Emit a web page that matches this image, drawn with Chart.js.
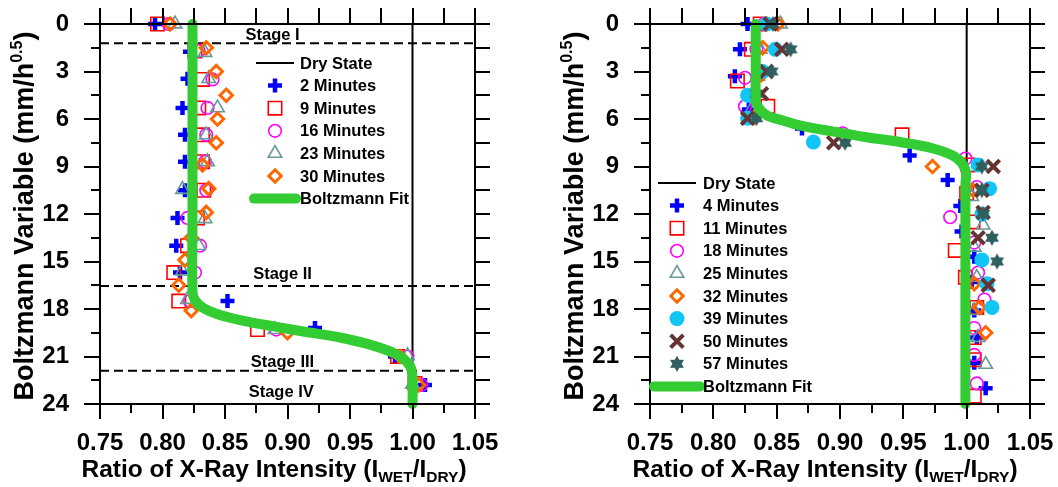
<!DOCTYPE html>
<html>
<head>
<meta charset="utf-8">
<script src="https://cdn.jsdelivr.net/npm/chart.js@4.4.1/dist/chart.umd.min.js"></script>
<style>
  html, body { margin: 0; padding: 0; background: #fff; }
  .wrap { position: relative; width: 1058px; height: 487px; }
  .wrap canvas { position: absolute; top: 0; }
  #leftChart { left: 0; }
  #rightChart { left: 529px; }
</style>
</head>
<body>
<div class="wrap">
  <canvas id="leftChart" width="529" height="487" style="width:529px;height:487px"></canvas>
  <canvas id="rightChart" width="529" height="487" style="width:529px;height:487px"></canvas>
</div>
<script>
// axis tick labels
const X_TICKS = [0.75, 0.80, 0.85, 0.90, 0.95, 1.00, 1.05];
const Y_TICKS = [0, 3, 6, 9, 12, 15, 18, 21, 24];

// ---- left panel ----
const leftLabels = ['2 Minutes', '9 Minutes', '16 Minutes', '23 Minutes', '30 Minutes'];
const left2X = [0.794, 0.822, 0.820, 0.816, 0.818, 0.818, 0.818, 0.812, 0.811, 0.814, 0.852, 0.922, 0.986, 1.010];
const left2Y = [0.0, 1.75, 3.45, 5.3, 7.0, 8.7, 10.5, 12.25, 14.0, 15.7, 17.5, 19.2, 21.0, 22.8];
const left9X = [0.796, 0.826, 0.832, 0.829, 0.832, 0.832, 0.833, 0.828, 0.820, 0.809, 0.813, 0.876, 0.988, 1.002];
const left9Y = [0.0, 1.7, 3.5, 5.3, 7.0, 8.7, 10.5, 12.25, 14.0, 15.7, 17.5, 19.3, 21.0, 22.7];
const left16X = [0.805, 0.829, 0.840, 0.836, 0.835, 0.834, 0.835, 0.820, 0.830, 0.826, 0.822, 0.891, 0.996, 1.007];
const left16Y = [0.0, 1.7, 3.5, 5.3, 7.0, 8.7, 10.5, 12.25, 14.0, 15.7, 17.5, 19.3, 21.0, 22.8];
const left23X = [0.810, 0.834, 0.837, 0.844, 0.835, 0.836, 0.816, 0.834, 0.829, 0.816, 0.820, 0.890, 0.996, 1.000];
const left23Y = [0.0, 1.8, 3.45, 5.3, 7.0, 8.7, 10.45, 12.3, 14.0, 15.6, 17.4, 19.3, 20.95, 22.75];
const left30X = [0.806, 0.835, 0.843, 0.851, 0.844, 0.843, 0.832, 0.837, 0.835, 0.823, 0.818, 0.813, 0.823, 0.900, 0.990, 1.005];
const left30Y = [0.0, 1.5, 3.0, 4.5, 6.0, 7.5, 8.9, 10.4, 11.9, 13.5, 14.9, 16.5, 18.1, 19.5, 21.0, 22.8];
const leftFitX = [0.824, 0.824, 0.824, 0.826, 0.832, 0.843, 0.862, 0.889, 0.915, 0.942, 0.968, 0.988, 0.998, 1.000, 1.000];
const leftFitY = [0.0, 12.0, 16.9, 17.45, 17.9, 18.3, 18.7, 19.1, 19.45, 19.8, 20.3, 20.9, 21.6, 22.4, 24.0];
const stageNames = ['Stage I', 'Stage II', 'Stage III', 'Stage IV'];
const stageLabelX = [0.888, 0.896, 0.896, 0.895];
const stageLabelY = [0.7, 15.8, 21.35, 23.3];
const stageLineY = [1.22, 16.55, 21.9];

// ---- right panel ----
const rightLabels = ['4 Minutes', '11 Minutes', '18 Minutes', '25 Minutes', '32 Minutes', '39 Minutes', '50 Minutes', '57 Minutes'];
const right4X = [0.827, 0.821, 0.817, 0.828, 0.870, 0.955, 0.985, 0.995, 0.996, 1.006, 1.004, 1.006, 1.008, 1.006, 1.015];
const right4Y = [0.0, 1.6, 3.3, 5.4, 6.6, 8.3, 9.85, 11.5, 13.1, 14.7, 16.3, 18.1, 19.8, 21.4, 23.0];
const right11X = [0.837, 0.830, 0.819, 0.843, 0.949, 1.001, 1.000, 1.005, 0.991, 0.999, 1.008, 1.006, 1.006, 1.006];
const right11Y = [0.0, 1.6, 3.6, 5.2, 7.0, 8.9, 10.7, 12.5, 14.3, 16.0, 17.9, 19.8, 21.2, 23.5];
const right18X = [0.840, 0.834, 0.825, 0.825, 0.902, 0.999, 1.008, 0.987, 1.006, 1.009, 1.014, 1.006, 1.006, 1.008];
const right18Y = [0.0, 1.6, 3.4, 5.2, 6.9, 8.5, 10.3, 12.2, 13.8, 15.7, 17.4, 19.2, 20.9, 22.7];
const right25X = [0.853, 0.837, 0.835, 0.830, 1.004, 1.013, 1.006, 1.008, 1.006, 1.009, 1.015];
const right25Y = [0.0, 1.6, 3.3, 5.4, 10.9, 12.7, 14.1, 16.0, 18.1, 19.8, 21.5];
const right32X = [0.851, 0.839, 0.838, 0.832, 0.973, 1.005, 1.006, 1.010, 1.015];
const right32Y = [0.0, 1.5, 3.2, 5.9, 9.0, 10.5, 16.4, 17.9, 19.5];
const right39X = [0.842, 0.849, 0.839, 0.827, 0.827, 0.879, 1.009, 1.018, 1.012, 1.012, 1.016, 1.020];
const right39Y = [0.0, 1.6, 3.0, 4.5, 5.95, 7.45, 8.9, 10.4, 12.0, 14.9, 16.4, 17.9];
const right50X = [0.845, 0.854, 0.842, 0.838, 0.827, 0.895, 1.021, 1.012, 1.013, 1.009, 1.017];
const right50Y = [0.0, 1.6, 3.0, 4.4, 5.95, 7.5, 9.0, 10.5, 11.9, 13.5, 16.5];
const right57X = [0.847, 0.861, 0.846, 0.834, 0.834, 0.904, 1.012, 1.012, 1.013, 1.020, 1.024];
const right57Y = [0.0, 1.6, 3.0, 4.4, 5.95, 7.5, 9.0, 10.5, 12.0, 13.5, 15.0];
const rightFitX = [0.8335, 0.8335, 0.8335, 0.835, 0.842, 0.855, 0.868, 0.895, 0.921, 0.947, 0.973, 0.991, 0.999, 0.999, 0.999];
const rightFitY = [0.0, 3.0, 4.6, 5.2, 5.75, 6.1, 6.4, 6.8, 7.15, 7.45, 7.85, 8.4, 9.2, 10.2, 24.0];

const DRY_X = [1.0, 1.0];
const DRY_Y = [0, 24];

const FONT = '"Liberation Sans", Arial, Helvetica, sans-serif';
const FIT_GREEN = '#33cc33';

function makeStar(color, r) {
  const c = document.createElement('canvas');
  const s = Math.ceil(r * 2 + 2);
  c.width = s; c.height = s;
  const g = c.getContext('2d');
  g.fillStyle = color;
  g.beginPath();
  for (let i = 0; i < 12; i++) {
    const a = -Math.PI / 2 + i * Math.PI / 6;
    const rr = i % 2 ? r * 0.58 : r;
    g.lineTo(s / 2 + rr * Math.cos(a), s / 2 + rr * Math.sin(a));
  }
  g.closePath();
  g.fill();
  return c;
}

const MARKERS = {
  plus:     { style: 'cross',    radius: 7,   bw: 4.5, color: '#0000ff', fill: false },
  square:   { style: 'rect',     radius: 9.5, bw: 1.6, color: '#ff0000', fill: false },
  circle:   { style: 'circle',   radius: 6.3, bw: 1.6, color: '#ff00ff', fill: false },
  triangle: { style: 'triangle', radius: 7.8, bw: 1.6, color: '#669999', fill: false },
  diamond:  { style: 'rectRot',  radius: 6.2, bw: 3,   color: '#ff6600', fill: false },
  dot:      { style: 'circle',   radius: 7.5, bw: 0,   color: '#11c6f5', fill: true },
  xmark:    { style: 'crossRot', radius: 9,   bw: 4,   color: '#663333', fill: false },
  star:     { style: makeStar('#2f5f5f', 8), radius: 8, bw: 0, color: '#2f5f5f', fill: true }
};

const pts = (xs, ys) => xs.map((x, i) => ({ x: x, y: ys[i] }));

function markerSet(label, xs, ys, m, order) {
  return {
    label: label,
    data: pts(xs, ys),
    showLine: false,
    pointStyle: m.style,
    pointRadius: m.radius,
    pointHoverRadius: m.radius,
    pointBorderWidth: m.bw,
    pointBorderColor: m.color,
    pointBackgroundColor: m.fill ? m.color : 'rgba(0,0,0,0)',
    clip: false,
    order: order
  };
}

function lineSet(label, xs, ys, color, width, extra) {
  return Object.assign({
    label: label,
    data: pts(xs, ys),
    showLine: true,
    borderColor: color,
    borderWidth: width,
    pointRadius: 0,
    pointHoverRadius: 0,
    fill: false,
    clip: false
  }, extra || {});
}

function drawMarker(ctx, m, x, y) {
  ctx.save();
  ctx.strokeStyle = m.color;
  ctx.fillStyle = m.fill ? m.color : 'rgba(0,0,0,0)';
  ctx.lineWidth = m.bw;
  Chart.helpers.drawPoint(ctx, { pointStyle: m.style, radius: m.radius, borderWidth: m.bw, rotation: 0 }, x, y);
  ctx.restore();
}

function drawRich(ctx, parts, cx, base) {
  let total = 0;
  parts.forEach(p => { ctx.font = 'bold ' + p.size + 'px ' + FONT; p.w = ctx.measureText(p.text).width; total += p.w; });
  let x = cx - total / 2;
  ctx.textAlign = 'left';
  ctx.textBaseline = 'alphabetic';
  parts.forEach(p => { ctx.font = 'bold ' + p.size + 'px ' + FONT; ctx.fillText(p.text, x, base + (p.dy || 0)); x += p.w; });
}

const X_TITLE = [
  { text: 'Ratio of X-Ray Intensity (I', size: 24.5 },
  { text: 'WET', size: 15.5, dy: 5 },
  { text: '/I', size: 24.5 },
  { text: 'DRY', size: 15.5, dy: 5 },
  { text: ')', size: 24.5 }
];
const Y_TITLE = [
  { text: 'Boltzmann Variable (mm/h', size: 27 },
  { text: '0.5', size: 16, dy: -11 },
  { text: ')', size: 27 }
];

// frame, ticks on all four sides, axis titles
const frameAxes = {
  id: 'frameAxes',
  afterDraw(chart, args, o) {
    const { ctx, chartArea: a, scales: { x, y } } = chart;
    ctx.save();
    ctx.strokeStyle = '#000';
    ctx.lineWidth = 2;
    ctx.lineCap = 'butt';
    ctx.beginPath();
    X_TICKS.forEach((v, i) => {
      const vals = [[v, 15]];
      if (i < X_TICKS.length - 1) vals.push([(v + X_TICKS[i + 1]) / 2, 9]);
      vals.forEach(([val, len]) => {
        const px = Math.round(x.getPixelForValue(val));
        ctx.moveTo(px, a.bottom); ctx.lineTo(px, a.bottom + len);
        ctx.moveTo(px, a.top); ctx.lineTo(px, a.top - 16);
      });
    });
    Y_TICKS.forEach((v, i) => {
      const vals = [[v, 16]];
      if (i < Y_TICKS.length - 1) vals.push([(v + Y_TICKS[i + 1]) / 2, 9]);
      vals.forEach(([val, len]) => {
        const py = Math.round(y.getPixelForValue(val));
        ctx.moveTo(a.left, py); ctx.lineTo(a.left - len, py);
        ctx.moveTo(a.right, py); ctx.lineTo(a.right + 15, py);
      });
    });
    ctx.stroke();
    ctx.strokeRect(a.left, a.top, a.right - a.left, a.bottom - a.top);

    ctx.fillStyle = '#000';
    drawRich(ctx, X_TITLE, o.xTitleX, o.xTitleY);
    ctx.translate(o.yTitleX, o.yTitleY);
    ctx.rotate(-Math.PI / 2);
    drawRich(ctx, Y_TITLE, 0, 0);
    ctx.restore();
  }
};

const panelLegend = {
  id: 'panelLegend',
  afterDraw(chart, args, o) {
    const ctx = chart.ctx;
    ctx.save();
    ctx.font = 'bold 16.5px ' + FONT;
    ctx.textBaseline = 'middle';
    ctx.textAlign = 'left';
    o.items.forEach((it, i) => {
      const yy = o.top + i * o.step;
      if (it.line) {
        ctx.save();
        ctx.strokeStyle = it.line.color;
        ctx.lineWidth = it.line.width;
        ctx.lineCap = it.line.width > 4 ? 'round' : 'butt';
        ctx.beginPath();
        ctx.moveTo(o.symbolX - it.line.half, yy);
        ctx.lineTo(o.symbolX + it.line.half, yy);
        ctx.stroke();
        ctx.restore();
      } else {
        drawMarker(ctx, it.marker, o.symbolX, yy);
      }
      ctx.fillStyle = '#000';
      ctx.fillText(it.text, o.textX, yy + 1);
    });
    ctx.restore();
  }
};

const stageText = {
  id: 'stageText',
  afterDraw(chart, args, o) {
    if (!o.names) return;
    const { ctx, scales: { x, y } } = chart;
    ctx.save();
    ctx.font = 'bold 16.5px ' + FONT;
    ctx.textAlign = 'center';
    ctx.textBaseline = 'middle';
    ctx.fillStyle = '#000';
    o.names.forEach((n, i) => ctx.fillText(n, x.getPixelForValue(o.xs[i]), y.getPixelForValue(o.ys[i])));
    ctx.restore();
  }
};

function baseOptions(yWidth, padRight, titles) {
  return {
    responsive: false,
    animation: false,
    events: [],
    layout: { padding: { top: 24, right: padRight, left: 0, bottom: 0 } },
    scales: {
      x: {
        type: 'linear', min: 0.75, max: 1.05,
        afterBuildTicks: s => { s.ticks = X_TICKS.map(v => ({ value: v })); },
        afterFit: s => { s.height = 83; s.paddingLeft = 0; s.paddingRight = 0; },
        grid: { display: false }, border: { display: false },
        ticks: { color: '#000', padding: 17, maxRotation: 0, font: { family: FONT, size: 24, weight: 'bold' },
                 callback: v => Number(v).toFixed(2) }
      },
      y: {
        type: 'linear', min: 0, max: 24, reverse: true,
        afterBuildTicks: s => { s.ticks = Y_TICKS.map(v => ({ value: v })); },
        afterFit: s => { s.width = yWidth; s.paddingTop = 0; s.paddingBottom = 0; },
        grid: { display: false }, border: { display: false },
        ticks: { color: '#000', padding: 23, font: { family: FONT, size: 24, weight: 'bold' },
                 callback: v => String(v) }
      }
    },
    plugins: {
      legend: { display: false },
      tooltip: { enabled: false },
      frameAxes: titles
    }
  };
}

const fitLine = { color: FIT_GREEN, width: 10, half: 21 };
const dryLine = { color: '#000', width: 2, half: 19 };

// left chart
const leftMarkers = [MARKERS.plus, MARKERS.square, MARKERS.circle, MARKERS.triangle, MARKERS.diamond];
const leftXs = [left2X, left9X, left16X, left23X, left30X];
const leftYs = [left2Y, left9Y, left16Y, left23Y, left30Y];
const leftSets = [
  lineSet('Boltzmann Fit', leftFitX, leftFitY, FIT_GREEN, 10, { tension: 0.35, borderCapStyle: 'round', borderJoinStyle: 'round', order: 0 }),
  lineSet('Dry State', DRY_X, DRY_Y, '#000', 2, { order: 100 })
];
stageLineY.forEach((v, i) => leftSets.push(lineSet('stage' + i, [0.75, 1.05], [v, v], '#000', 2, { borderDash: [9, 5], order: 90 })));
leftLabels.forEach((l, i) => leftSets.push(markerSet(l, leftXs[i], leftYs[i], leftMarkers[i], 50 - i)));

const leftOpts = baseOptions(100, 54, { xTitleX: 274, xTitleY: 477, yTitleX: 33, yTitleY: 216 });
leftOpts.plugins.panelLegend = {
  top: 63, step: 22.6, symbolX: 275, textX: 300,
  items: [{ text: 'Dry State', line: dryLine }]
    .concat(leftLabels.map((l, i) => ({ text: l, marker: leftMarkers[i] })))
    .concat([{ text: 'Boltzmann Fit', line: fitLine }])
};
leftOpts.plugins.stageText = { names: stageNames, xs: stageLabelX, ys: stageLabelY };

new Chart(document.getElementById('leftChart'), {
  type: 'scatter',
  data: { datasets: leftSets },
  options: leftOpts,
  plugins: [frameAxes, panelLegend, stageText]
});

// right chart
const rightMarkers = [MARKERS.plus, MARKERS.square, MARKERS.circle, MARKERS.triangle, MARKERS.diamond, MARKERS.dot, MARKERS.xmark, MARKERS.star];
const rightXs = [right4X, right11X, right18X, right25X, right32X, right39X, right50X, right57X];
const rightYs = [right4Y, right11Y, right18Y, right25Y, right32Y, right39Y, right50Y, right57Y];
const rightSets = [
  lineSet('Boltzmann Fit', rightFitX, rightFitY, FIT_GREEN, 10, { tension: 0.35, borderCapStyle: 'round', borderJoinStyle: 'round', order: 0 }),
  lineSet('Dry State', DRY_X, DRY_Y, '#000', 2, { order: 100 })
];
rightLabels.forEach((l, i) => rightSets.push(markerSet(l, rightXs[i], rightYs[i], rightMarkers[i], 50 - i)));

const rightOpts = baseOptions(121, 28, { xTitleX: 296, xTitleY: 477, yTitleX: 54, yTitleY: 216 });
rightOpts.plugins.panelLegend = {
  top: 183, step: 22.6, symbolX: 148, textX: 174,
  items: [{ text: 'Dry State', line: dryLine }]
    .concat(rightLabels.map((l, i) => ({ text: l, marker: rightMarkers[i] })))
    .concat([{ text: 'Boltzmann Fit', line: { color: FIT_GREEN, width: 10, half: 23 } }])
};

new Chart(document.getElementById('rightChart'), {
  type: 'scatter',
  data: { datasets: rightSets },
  options: rightOpts,
  plugins: [frameAxes, panelLegend, stageText]
});
</script>
</body>
</html>
